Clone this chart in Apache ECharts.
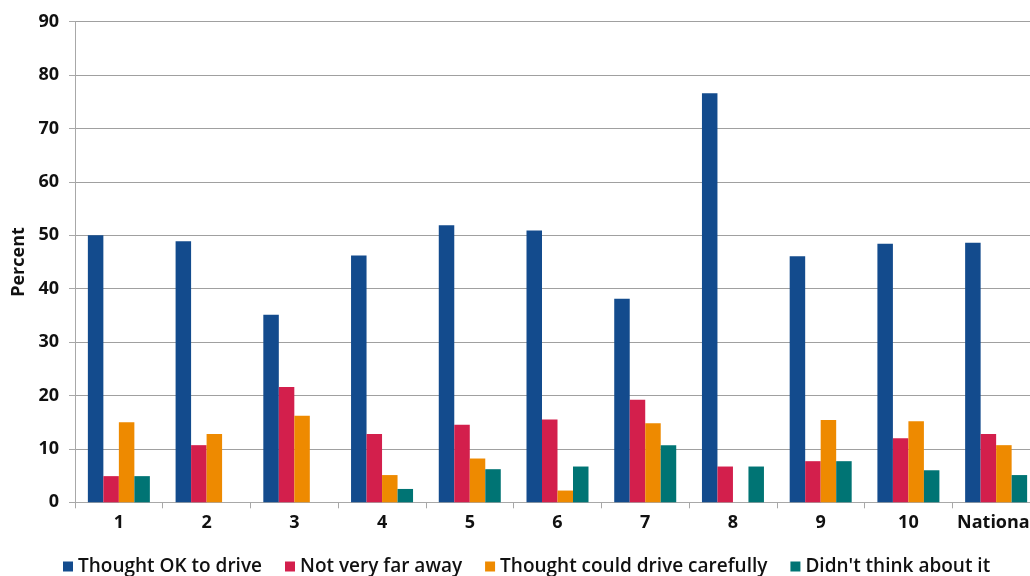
<!DOCTYPE html>
<html>
<head>
<meta charset="utf-8">
<script src="https://cdn.jsdelivr.net/npm/echarts@6/dist/echarts.min.js"></script>
<style>html,body{margin:0;padding:0;background:#fff}#c{width:1030px;height:576px}</style>
</head>
<body>
<div id="c"></div>
<script>
const categories = ['1','2','3','4','5','6','7','8','9','10','National'];
const thoughtOK = [50.0, 48.9, 35.1, 46.2, 51.9, 50.9, 38.1, 76.6, 46.1, 48.4, 48.6];
const notFar = [4.9, 10.7, 21.6, 12.8, 14.5, 15.5, 19.2, 6.7, 7.7, 12.0, 12.8];
const driveCarefully = [15.0, 12.8, 16.2, 5.1, 8.2, 2.2, 14.8, null, 15.4, 15.2, 10.7];
const didntThink = [4.9, null, null, 2.5, 6.2, 6.7, 10.7, 6.7, 7.7, 6.0, 5.1];
const seriesNames = ['Thought OK to drive','Not very far away','Thought could drive carefully',"Didn't think about it"];
const colors = ['#134B8D','#D31F4C','#EE8A00','#007474'];
const font = '"Open Sans", "DejaVu Sans", sans-serif';

const chart = echarts.init(document.getElementById('c'), null, {renderer:'canvas'});
const data = [thoughtOK, notFar, driveCarefully, didntThink];
chart.setOption({
  animation: false,
  color: colors,
  grid: {left: 75, top: 21.7, width: 965, bottom: 73.7, containLabel: false, outerBoundsMode: 'none'},
  legend: {
    left: 58, top: 552,
    itemWidth: 10, itemHeight: 10, itemGap: 23,
    icon: 'rect',
    textStyle: {fontFamily: font, fontSize: 19, fontWeight: 600, color: '#111'},
    data: seriesNames
  },
  xAxis: {
    type: 'category', data: categories,
    axisLine: {lineStyle: {color: '#a8a8a8', width: 1}},
    axisTick: {show: true, length: 6, lineStyle: {color: '#a8a8a8'}},
    axisLabel: {interval: 0, fontFamily: font, fontSize: 18, fontWeight: 'bold', color: '#111', margin: 12}
  },
  yAxis: {
    type: 'value', min: 0, max: 90, interval: 10,
    name: 'Percent', nameLocation: 'middle', nameGap: 47, nameRotate: 90,
    nameTextStyle: {fontFamily: font, fontSize: 18, fontWeight: 'bold', color: '#111'},
    axisLine: {show: true, lineStyle: {color: '#a8a8a8', width: 1}},
    axisTick: {show: true, length: 6, lineStyle: {color: '#a8a8a8'}},
    axisLabel: {fontFamily: font, fontSize: 18, fontWeight: 'bold', color: '#111', margin: 16},
    splitLine: {lineStyle: {color: '#a0a0a0', width: 1}}
  },
  series: seriesNames.map((n, i) => ({
    name: n, type: 'bar', data: data[i],
    barWidth: 15.5, barGap: '0%',
    itemStyle: {color: colors[i]}
  }))
});
</script>
</body>
</html>
